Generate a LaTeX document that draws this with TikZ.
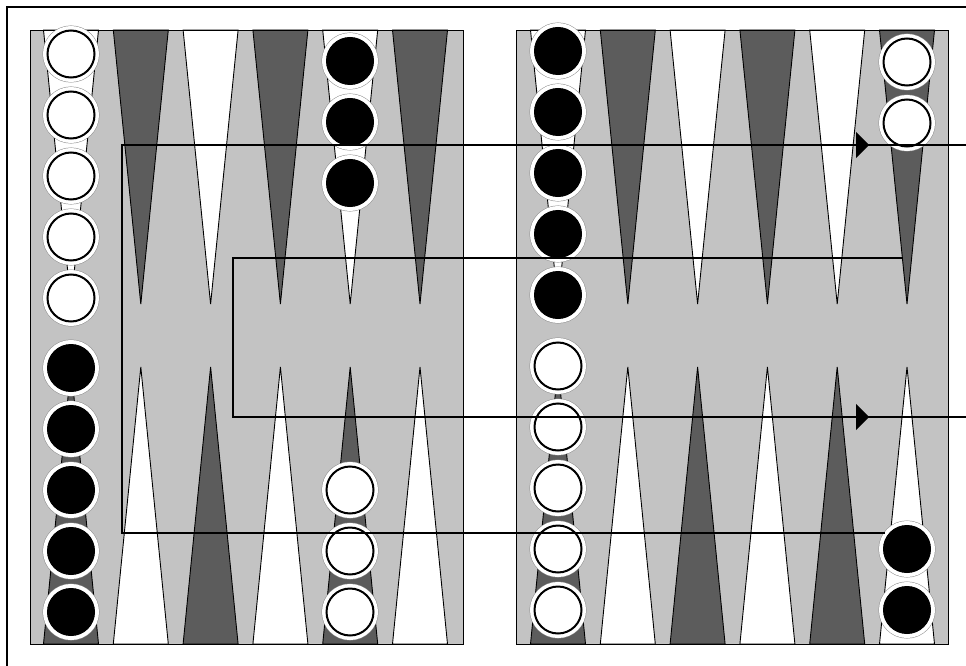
\documentclass[tikz,border=0pt]{standalone}
\usepackage{xcolor}
\usetikzlibrary{arrows.meta,positioning}
\definecolor{boardGray}{HTML}{C3C3C3}
\definecolor{pointDark}{HTML}{5C5C5C}

\begin{document}
\begin{tikzpicture}[x=1pt, y=-1pt, >=Stealth,
  edge/.style={draw=black,line width=0.9pt},
  ptW/.style={edge,fill=white},
  ptD/.style={edge,fill=pointDark},
  rim/.style={circle,inner sep=0pt,minimum size=47pt,
    preaction={draw=black!45,line width=10pt},
    preaction={draw=white,line width=9pt}},
  chkW/.style={rim,draw=black,line width=2pt,fill=white},
  chkB/.style={rim,draw=black,line width=1pt,fill=black},
  move/.style={draw=black,line width=1.2pt}]
\useasboundingbox (0,0) rectangle (966,666);
% --- frame and board ---
  \draw[line width=1.4pt] (7,666) -- (7,7) -- (966,7);
  \fill[boardGray] (30,30) rectangle (463,644);
  \fill[boardGray] (516,30) rectangle (948,644);
% --- points ---
  \foreach \x in {71,210.6,350.2,558,697.6,837.2} {
    \path[ptW] ({\x-27.5},30) -- (\x,304) -- ({\x+27.5},30) -- cycle;
    \path[ptD] ({\x-27.5},644) -- (\x,367) -- ({\x+27.5},644) -- cycle;
  }
  \foreach \x in {140.8,280.4,420,627.8,767.4,907} {
    \path[ptD] ({\x-27.5},30) -- (\x,304) -- ({\x+27.5},30) -- cycle;
    \path[ptW] ({\x-27.5},644) -- (\x,367) -- ({\x+27.5},644) -- cycle;
  }
  \draw[edge] (30,30) rectangle (463,644);
  \draw[edge] (516,30) rectangle (948,644);
% --- checkers ---
  \foreach \k in {0,...,4} {
    \node[chkW] (wa\k) at (71,{54+61*\k}) {};
    \node[chkB] (ba\k) at (71,{612-61*\k}) {};
    \node[chkB] (bg\k) at (558,{51+61*\k}) {};
    \node[chkW] (wg\k) at (558,{610-61*\k}) {};
  }
  \foreach \k in {0,1,2} {
    \node[chkB] (be\k) at (350,{61+61*\k}) {};
    \node[chkW] (we\k) at (350,{612-61*\k}) {};
  }
  \foreach \k in {0,1} {
    \node[chkW] (wl\k) at (907,{62+61*\k}) {};
    \node[chkB] (bl\k) at (907,{610-61*\k}) {};
  }
% --- moves ---
  \coordinate (m1s) at (966,145);
  \coordinate (m1a) at (122,145);
  \coordinate (m1b) at (122,533);
  \coordinate (m1e) at (885,533);
  \coordinate (m2s) at (903,258);
  \coordinate (m2a) at (233,258);
  \coordinate (m2b) at (233,417);
  \coordinate (m2e) at (966,417);
  \draw[move] (m1s) -- (m1a) -- (m1b) -- (m1e);
  \draw[move] (m2s) -- (m2a) -- (m2b) -- (m2e);
  \coordinate (h1s) at (845,145);
  \coordinate (h1e) at (869,145);
  \coordinate (h2s) at (845,417);
  \coordinate (h2e) at (869,417);
  \draw[move,-{Triangle[length=13pt,width=26pt]}] (h1s) -- (h1e);
  \draw[move,-{Triangle[length=13pt,width=26pt]}] (h2s) -- (h2e);
\end{tikzpicture}
\end{document}
